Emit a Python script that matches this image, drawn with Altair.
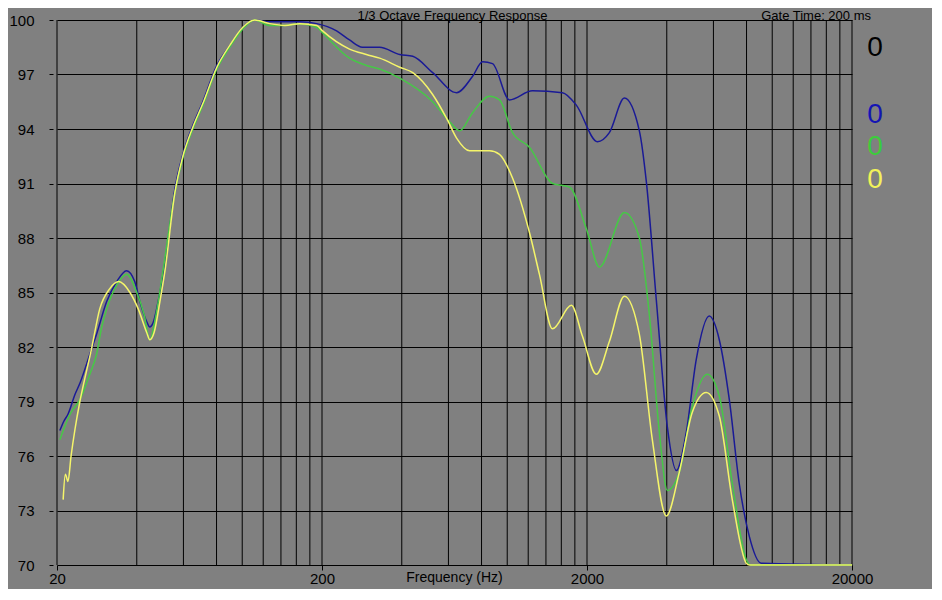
import altair as alt
import pandas as pd

# ---- data ----
grid_freqs = [20, 40, 60, 80, 100, 120, 140, 160, 180, 200,
              400, 600, 800, 1000, 1200, 1400, 1600, 1800, 2000,
              4000, 6000, 8000, 10000, 12000, 14000, 16000, 18000, 20000]
x_tick_labels = [20, 200, 2000, 20000]
y_ticks = [70, 73, 76, 79, 82, 85, 88, 91, 94, 97, 100]

blue_f = [20.5, 21.2, 22.0, 23.4, 24.4, 26.6, 28.2, 30.8, 33.6, 36.6, 39.3, 41.1, 43.6, 44.8, 46.0, 48.9,
          52.0, 55.7, 59.7, 65.1, 71.0, 80.2, 89.7, 100.5, 111.5, 127, 145, 165, 191, 227, 254, 284, 330,
          393, 440, 523, 644, 740, 807, 880, 1020, 1245, 1615, 1825, 2189, 2429, 2767, 3152, 3349, 3652,
          4020, 4348, 4738, 5167, 5784, 6313, 6888, 7505, 8186, 9080, 20000]
blue_db = [77.4, 77.9, 78.3, 79.4, 80.0, 81.6, 82.7, 84.5, 85.6, 86.2, 85.6, 84.5, 83.4, 83.1, 83.3, 85.0,
           87.4, 90.7, 92.6, 94.2, 95.5, 97.5, 98.6, 99.6, 100.0, 99.9, 99.9, 99.9, 99.8, 99.4, 98.9, 98.5, 98.5,
           98.1, 98.0, 97.1, 96.0, 96.9, 97.7, 97.6, 95.6, 96.1, 96.0, 95.3, 93.3, 93.8, 95.7, 93.9, 91.1, 84.6,
           77.6, 75.2, 77.3, 81.3, 83.7, 82.4, 79.1, 74.5, 71.6, 70.1, 70.0]

green_f = [20.5, 22.4, 24.4, 26.6, 28.2, 29.5, 30.8, 33.6, 36.6, 40.0, 42.6, 44.8, 47.3, 50.0, 55.7, 59.7,
           65.1, 71.0, 80.2, 89.7, 100.5, 111.5, 127, 145, 165, 191, 201, 254, 294, 330, 393, 523, 606, 661,
           740, 857, 935, 1047, 1213, 1482, 1717, 1990, 2229, 2767, 3152, 3437, 3750, 4020, 4459, 4990, 5688,
           6313, 7067, 7979, 8300, 20000]
green_db = [76.9, 78.3, 79.1, 80.5, 81.6, 83.1, 84.1, 85.4, 86.0, 85.0, 83.8, 82.4, 83.8, 86.0, 90.5, 92.4,
            94.0, 95.3, 97.3, 98.5, 99.5, 100.0, 99.7, 99.7, 99.8, 99.6, 99.3, 97.9, 97.5, 97.3, 96.8, 95.5, 94.4, 93.9,
            94.9, 95.8, 95.6, 93.8, 93.0, 91.0, 90.8, 88.5, 86.4, 89.4, 88.0, 83.8, 77.3, 74.1, 75.1, 78.7, 80.5,
            79.3, 74.5, 70.3, 70.0, 70.0]

yellow_f = [21.1, 21.5, 22.0, 22.6, 23.4, 24.4, 25.5, 27.0, 29.0, 31.6, 34.2, 37.7, 40.5, 43.6, 44.8, 46.5,
            48.9, 51.1, 55.7, 59.7, 65.1, 71.0, 80.2, 89.7, 100.5, 111.5, 127, 145, 165, 191, 201, 254, 294,
            330, 393, 440, 523, 590, 644, 721, 857, 935, 1047, 1213, 1323, 1482, 1746, 1922, 2169, 2429, 2767,
            3152, 3528, 3984, 4459, 4990, 5636, 6313, 7067, 7979, 8200, 20000]
yellow_db = [73.6, 75.0, 74.6, 76.0, 77.5, 79.0, 80.3, 81.9, 84.1, 85.2, 85.6, 85.0, 84.1, 82.8, 82.4, 82.8,
             84.5, 86.2, 90.5, 92.5, 94.1, 95.4, 97.4, 98.6, 99.6, 100.0, 99.8, 99.7, 99.8, 99.7, 99.4, 98.4, 98.1,
             97.9, 97.4, 97.1, 95.9, 94.6, 93.5, 92.8, 92.8, 92.6, 91.3, 88.3, 86.0, 83.0, 84.3, 82.6, 80.5, 82.3, 84.8,
             82.7, 76.9, 72.7, 75.1, 78.4, 79.5, 78.2, 73.6, 70.1, 70.0, 70.0]

legend_labels = ["0", "0", "0", "0"]
legend_colors = ["#000000", "#1414b4", "#3ccc3c", "#f2f25a"]
line_colors = ["#1a1a96", "#46c846", "#f5f56a"]

title_text = "1/3 Octave Frequency Response"
gate_text = "Gate Time: 200 ms"
x_title = "Frequency (Hz)"

FONT = "Liberation Sans, Arial, sans-serif"
W, H = 795, 545

xscale = alt.Scale(type="log", domain=[20, 20000], nice=False)
yscale = alt.Scale(domain=[70, 100], nice=False, zero=False)

xaxis = alt.Axis(values=x_tick_labels, grid=False, domain=False, tickColor="black",
                 tickSize=5, labelPadding=1, labelFontSize=15, labelColor="black",
                 labelFont=FONT, title=None, format="d", labelFlush=False)
yaxis = alt.Axis(values=y_ticks, grid=True, gridColor="black", gridOpacity=1, gridWidth=1,
                 domain=False, tickColor="black", tickSize=4, offset=4, labelPadding=15,
                 labelFontSize=15, labelColor="black", labelFont=FONT, format="d", title=None)

grid_df = pd.DataFrame({"f": grid_freqs})
rules = alt.Chart(grid_df).mark_rule(color="black", strokeWidth=1).encode(
    x=alt.X("f:Q", scale=xscale, axis=xaxis),
    y=alt.value(0), y2=alt.value(H)
)

def series_layer(fs, dbs, color):
    df = pd.DataFrame({"f": fs, "db": dbs})
    return alt.Chart(df).mark_line(color=color, strokeWidth=1.5, interpolate="monotone").encode(
        x=alt.X("f:Q", scale=xscale, axis=xaxis),
        y=alt.Y("db:Q", scale=yscale, axis=yaxis),
        order=alt.Order("f:Q"))

blue = series_layer(blue_f, blue_db, line_colors[0])
green = series_layer(green_f, green_db, line_colors[1])
yellow = series_layer(yellow_f, yellow_db, line_colors[2])

title = alt.Chart(pd.DataFrame({"t": [title_text]})).mark_text(
    align="center", baseline="middle", fontSize=13, font=FONT, color="black"
).encode(text="t:N", x=alt.value(W / 2 - 2), y=alt.value(-4))

gate = alt.Chart(pd.DataFrame({"t": [gate_text]})).mark_text(
    align="right", baseline="middle", fontSize=13, font=FONT, color="black"
).encode(text="t:N", x=alt.value(814), y=alt.value(-4))

# axis title: the reference shows it cut off at the very bottom; placed on the label row so it stays visible
xtitle = alt.Chart(pd.DataFrame({"t": [x_title]})).mark_text(
    align="center", baseline="middle", fontSize=14, font=FONT, color="black"
).encode(text="t:N", x=alt.value(W / 2), y=alt.value(H + 13))

legend_layers = []
legend_y = [28, 95, 127, 160]
for lab, col, yy in zip(legend_labels, legend_colors, legend_y):
    legend_layers.append(
        alt.Chart(pd.DataFrame({"t": [lab]})).mark_text(
            align="center", baseline="middle", fontSize=28,
            font="Liberation Sans Narrow, Liberation Sans, Arial", color=col
        ).encode(text="t:N", x=alt.value(818), y=alt.value(yy))
    )

chart = alt.layer(rules, blue, green, yellow, title, gate, xtitle, *legend_layers).properties(
    width=W, height=H,
    autosize=alt.AutoSizeParams(type="none"),
    padding={"left": 49, "top": 12, "right": 80, "bottom": 24},
).configure(background="#808080").configure_view(strokeWidth=0, fill="#808080")

chart.save("out.html", embed_options={"renderer": "svg", "actions": False})
